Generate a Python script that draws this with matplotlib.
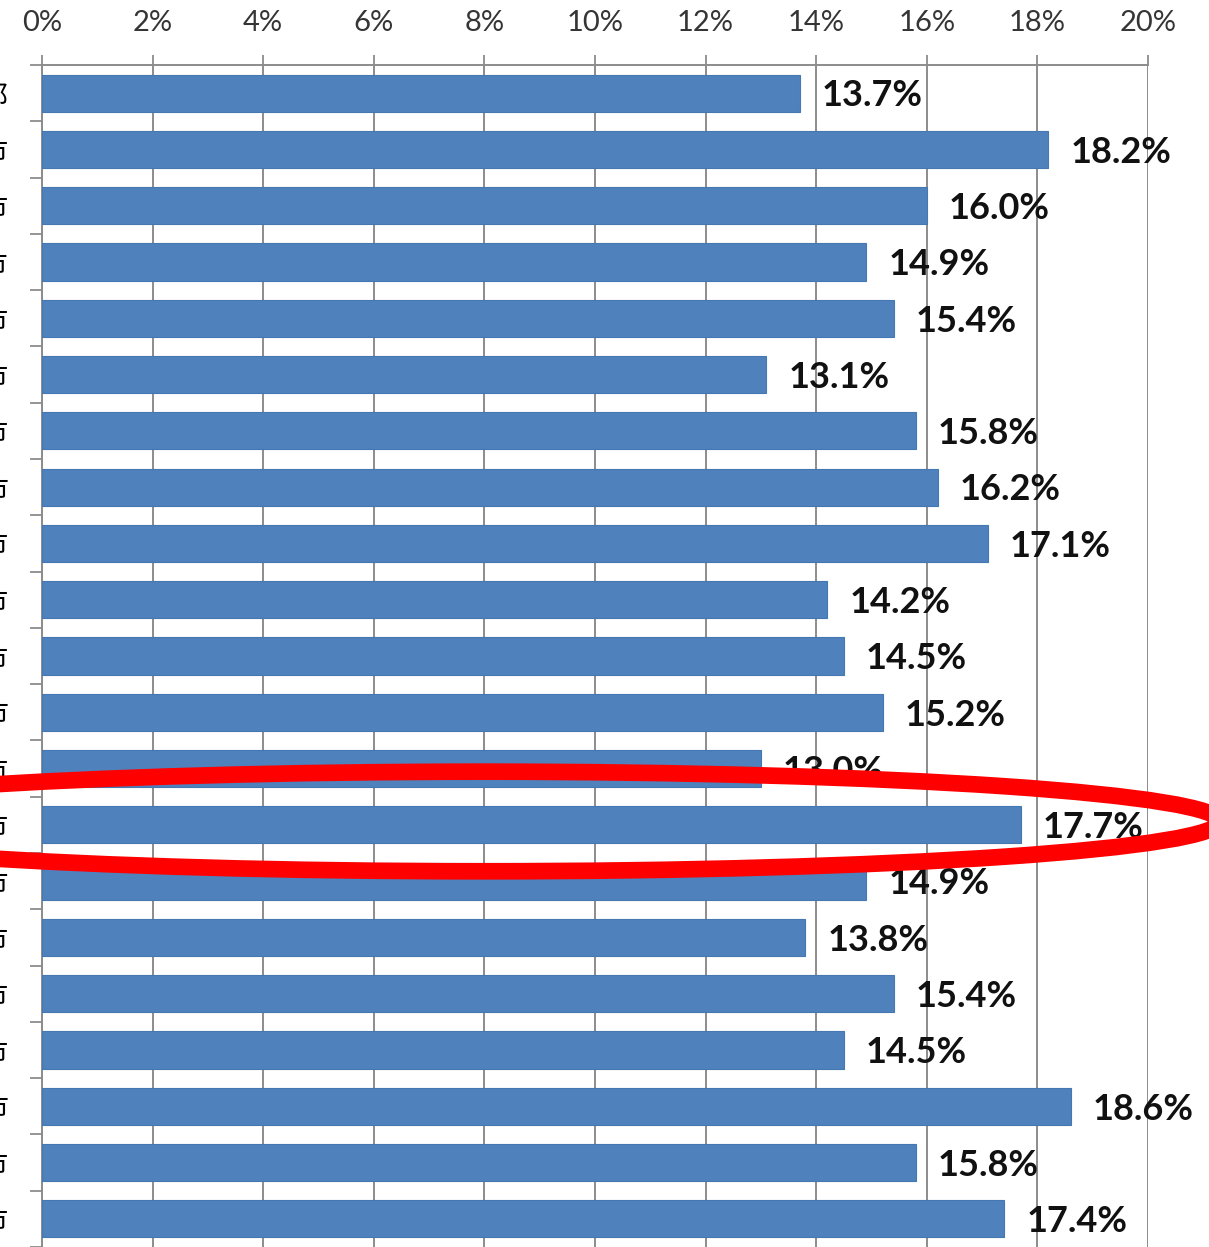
import matplotlib.pyplot as plt
from matplotlib.patches import Ellipse
from matplotlib.ticker import FixedLocator, PercentFormatter

plt.rcParams["font.family"] = ["Lato", "DejaVu Sans"]

cities = [
    "東京都区部", "札幌市", "仙台市", "さいたま市", "千葉市", "横浜市", "川崎市",
    "相模原市", "新潟市", "静岡市", "浜松市", "名古屋市", "京都市", "大阪市",
    "堺市", "神戸市", "岡山市", "広島市", "北九州市", "福岡市", "熊本市",
]
rates = [
    13.7, 18.2, 16.0, 14.9, 15.4, 13.1, 15.8, 16.2, 17.1, 14.2, 14.5,
    15.2, 13.0, 17.7, 14.9, 13.8, 15.4, 14.5, 18.6, 15.8, 17.4,
]
highlight = "大阪市"

BAR = "#4F81BD"
GRID = "#8C8C8C"

fig = plt.figure(figsize=(12.09, 12.47), dpi=100)
ax = fig.add_axes([42 / 1209, 0.0, 1106 / 1209, 1 - 65 / 1247])

pos = list(range(len(cities)))
ax.barh(pos, rates, height=0.66, color=BAR, edgecolor="#4577b3", linewidth=0.8, zorder=3)

for y, v in zip(pos, rates):
    ax.annotate(f"{v:.1f}%", (v, y), xytext=(16, -2), textcoords="offset points",
                va="center", ha="left", fontsize=26, fontweight="bold",
                color="#111111", zorder=4)

ax.set_xlim(0, 20)
ax.set_ylim(len(cities) - 0.5, -0.5)
ax.set_xticks(range(0, 21, 2))
ax.xaxis.set_major_formatter(PercentFormatter(decimals=0))
ax.xaxis.tick_top()
ax.tick_params(axis="x", direction="out", length=7, width=1.3, color=GRID,
               pad=14, labelsize=21, labelcolor="#353535")
ax.grid(axis="x", color=GRID, linewidth=1.4, zorder=0)

ax.set_yticks(pos)
ax.set_yticklabels(cities, family=["Noto Sans CJK JP", "DejaVu Sans"], fontsize=20)
ax.tick_params(axis="y", which="major", length=0, pad=24)
ax.yaxis.set_minor_locator(FixedLocator([p - 0.5 for p in pos] + [len(cities) - 0.5]))
ax.tick_params(axis="y", which="minor", direction="out", length=9, width=1.3, color=GRID)

for side in ("right", "bottom"):
    ax.spines[side].set_visible(False)
for side in ("top", "left"):
    ax.spines[side].set_color(GRID)
    ax.spines[side].set_linewidth(1.4)

# red ellipse around the highlighted city
hi = cities.index(highlight)
ring = Ellipse((8.0, hi - 0.06), width=26.6, height=1.77, fill=False,
               edgecolor="#FF0000", linewidth=12, zorder=6, clip_on=False)
ax.add_patch(ring)

fig.savefig("out.png", dpi=100)
